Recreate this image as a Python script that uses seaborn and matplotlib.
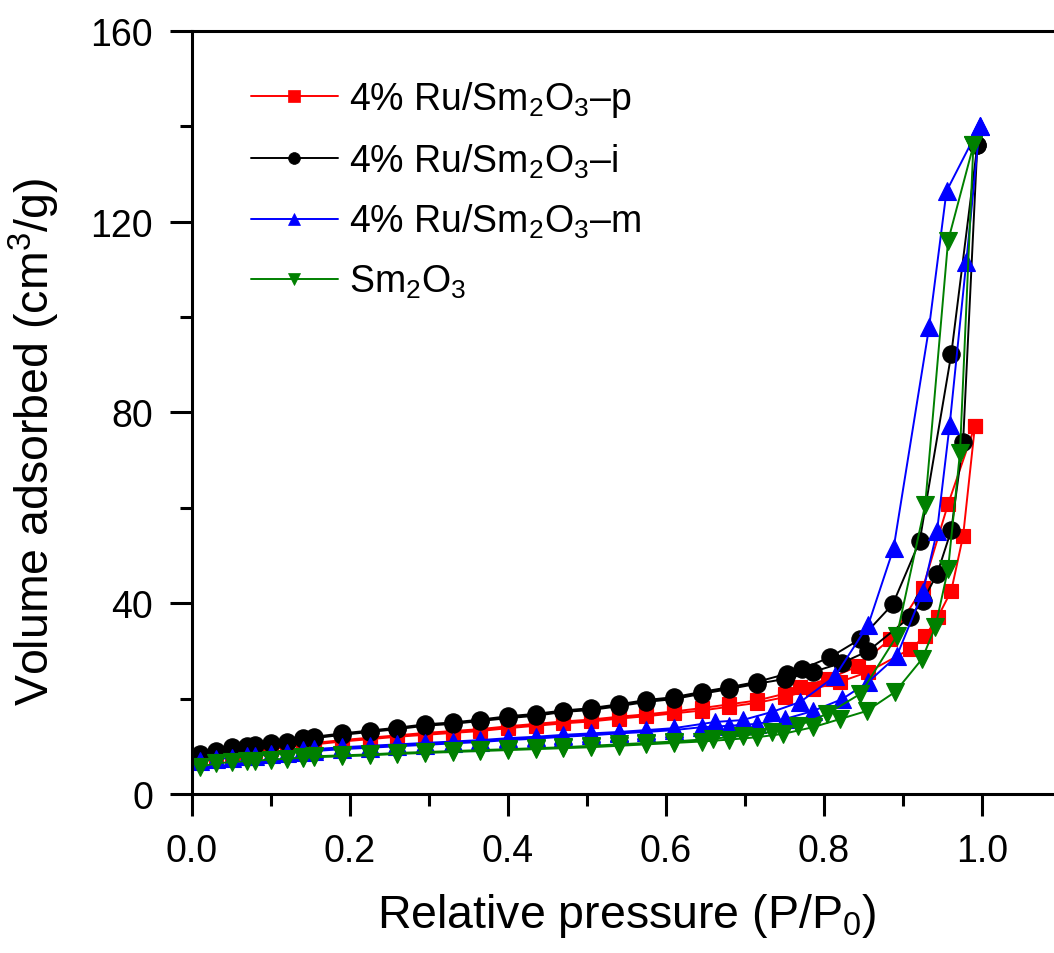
import matplotlib
matplotlib.use("Agg")
import matplotlib.pyplot as plt
from matplotlib.lines import Line2D
from matplotlib.ticker import MultipleLocator
import seaborn as sns

# 4% Ru/Sm2O3-p  (red squares)
p_ads_x = [0.01, 0.03, 0.05, 0.07, 0.08, 0.10, 0.12, 0.14, 0.155, 0.19, 0.225, 0.26, 0.295, 0.33, 0.365,
           0.40, 0.435, 0.47, 0.505, 0.54, 0.575, 0.61, 0.645, 0.68, 0.715, 0.75, 0.786, 0.82, 0.856,
           0.909, 0.928, 0.944, 0.961, 0.976, 0.991]
p_ads_y = [7.3, 7.9, 8.4, 8.8, 9.0, 9.4, 9.8, 10.2, 10.4, 11.0, 11.5, 12.0, 12.4, 12.8, 13.2,
           13.8, 14.3, 14.8, 15.2, 15.8, 16.3, 16.9, 17.5, 18.3, 19.1, 20.3, 22.0, 23.5, 25.6,
           30.4, 33.1, 37.1, 42.6, 54.1, 77.2]
p_des_x = [0.991, 0.957, 0.925, 0.884, 0.843, 0.805, 0.77, 0.75, 0.715, 0.68, 0.645, 0.61, 0.575, 0.54,
           0.505, 0.47, 0.435, 0.40, 0.365, 0.33, 0.295, 0.26, 0.225, 0.19, 0.155, 0.14]
p_des_y = [77.2, 60.8, 43.2, 32.5, 26.8, 24.1, 22.4, 21.0, 19.6, 18.8, 18.0, 17.3, 16.7, 16.2,
           15.6, 15.2, 14.7, 14.2, 13.6, 13.2, 12.8, 12.3, 11.8, 11.3, 10.7, 10.5]

# 4% Ru/Sm2O3-i  (black circles)
i_ads_x = [0.01, 0.03, 0.05, 0.07, 0.08, 0.10, 0.12, 0.14, 0.155, 0.19, 0.225, 0.26, 0.295, 0.33, 0.365,
           0.40, 0.435, 0.47, 0.505, 0.54, 0.575, 0.61, 0.645, 0.68, 0.715, 0.75, 0.786, 0.823, 0.856,
           0.909, 0.925, 0.943, 0.961, 0.976, 0.994]
i_ads_y = [8.4, 9.0, 9.8, 10.1, 10.3, 10.7, 11.0, 11.5, 11.7, 12.4, 13.0, 13.6, 14.3, 14.7, 15.3,
           15.9, 16.4, 17.2, 17.6, 18.4, 19.3, 19.9, 21.0, 22.0, 23.1, 24.1, 25.6, 27.5, 30.0,
           37.1, 40.5, 46.1, 55.3, 73.8, 136.0]
i_des_x = [0.994, 0.961, 0.921, 0.887, 0.846, 0.808, 0.772, 0.753, 0.715, 0.68, 0.645, 0.61, 0.575, 0.54,
           0.505, 0.47, 0.435, 0.40, 0.365, 0.33, 0.295, 0.26, 0.225, 0.19, 0.155, 0.14]
i_des_y = [136.0, 92.2, 53.0, 39.8, 32.5, 28.7, 26.2, 25.2, 23.5, 22.4, 21.4, 20.3, 19.7, 18.8,
           18.0, 17.5, 16.8, 16.3, 15.6, 15.0, 14.6, 13.9, 13.3, 12.7, 12.0, 11.8]

# 4% Ru/Sm2O3-m  (blue up triangles)
m_ads_x = [0.01, 0.03, 0.05, 0.07, 0.08, 0.10, 0.12, 0.14, 0.155, 0.19, 0.225, 0.26, 0.295, 0.33, 0.365,
           0.40, 0.435, 0.47, 0.505, 0.54, 0.575, 0.61, 0.645, 0.68, 0.715, 0.75, 0.786, 0.823, 0.856,
           0.892, 0.925, 0.943, 0.959, 0.98, 0.997]
m_ads_y = [7.0, 7.3, 7.6, 7.9, 8.0, 8.3, 8.6, 8.9, 9.0, 9.4, 9.7, 10.0, 10.3, 10.6, 10.9,
           11.3, 11.6, 12.0, 12.3, 12.7, 13.0, 13.4, 14.0, 14.3, 14.7, 15.7, 17.4, 19.9, 23.5,
           28.9, 42.3, 55.1, 77.4, 111.5, 140.0]
m_des_x = [0.997, 0.955, 0.933, 0.888, 0.856, 0.814, 0.77, 0.734, 0.697, 0.662, 0.61, 0.575, 0.54,
           0.505, 0.47, 0.435, 0.40, 0.365, 0.33, 0.295, 0.26, 0.225, 0.19, 0.155, 0.14]
m_des_y = [140.0, 126.4, 97.9, 51.5, 35.5, 24.7, 19.3, 17.2, 15.5, 15.1, 13.8, 13.4, 13.0,
           12.7, 12.4, 12.0, 11.7, 11.3, 11.0, 10.7, 10.4, 10.1, 9.8, 9.4, 9.2]

# Sm2O3  (green down triangles)
s_ads_x = [0.01, 0.03, 0.05, 0.07, 0.08, 0.10, 0.12, 0.14, 0.155, 0.19, 0.225, 0.26, 0.295, 0.33, 0.365,
           0.40, 0.435, 0.47, 0.505, 0.54, 0.575, 0.61, 0.645, 0.68, 0.715, 0.748, 0.786, 0.82, 0.854,
           0.89, 0.924, 0.941, 0.957, 0.972, 0.989]
s_ads_y = [5.7, 6.4, 6.7, 6.9, 7.0, 7.2, 7.4, 7.6, 7.7, 7.9, 8.1, 8.4, 8.6, 8.8, 9.0,
           9.2, 9.4, 9.6, 9.8, 10.1, 10.4, 10.7, 11.0, 11.4, 11.9, 12.6, 14.0, 15.7, 17.4,
           21.4, 28.3, 35.1, 47.2, 71.5, 136.0]
s_des_x = [0.989, 0.957, 0.928, 0.892, 0.846, 0.804, 0.767, 0.734, 0.697, 0.66, 0.61, 0.575, 0.54,
           0.505, 0.47, 0.435, 0.40, 0.365, 0.33, 0.295, 0.26, 0.225, 0.19, 0.155, 0.14]
s_des_y = [136.0, 116.0, 60.6, 33.1, 21.0, 16.8, 14.3, 13.0, 12.2, 11.6, 11.0, 10.7, 10.4,
           10.1, 9.8, 9.6, 9.4, 9.2, 9.0, 8.8, 8.6, 8.3, 8.1, 7.9, 7.8]

labels = ["4% Ru/Sm$_2$O$_3$\u2013p", "4% Ru/Sm$_2$O$_3$\u2013i",
          "4% Ru/Sm$_2$O$_3$\u2013m", "Sm$_2$O$_3$"]
colors = ["#ff0000", "#000000", "#0000ff", "#008000"]
markers = ["s", "o", "^", "v"]
msizes = [10.5, 12.5, 13.5, 13.5]

sns.set_style("ticks")
plt.rcParams["font.family"] = ["Liberation Sans", "DejaVu Sans"]
plt.rcParams["mathtext.fontset"] = "custom"
plt.rcParams["mathtext.rm"] = "Liberation Sans"
plt.rcParams["mathtext.it"] = "Liberation Sans:italic"
plt.rcParams["mathtext.bf"] = "Liberation Sans:bold"
plt.rcParams["text.color"] = "black"
plt.rcParams["axes.labelcolor"] = "black"
plt.rcParams["xtick.color"] = "black"
plt.rcParams["ytick.color"] = "black"
plt.rcParams["axes.edgecolor"] = "black"

fig = plt.figure(figsize=(10.54, 9.54), dpi=100)
ax = fig.add_axes([0.1822, 0.1667, 0.8245, 0.7998])

series = [
    (p_ads_x + p_des_x, p_ads_y + p_des_y),
    (i_ads_x + i_des_x, i_ads_y + i_des_y),
    (m_ads_x + m_des_x, m_ads_y + m_des_y),
    (s_ads_x + s_des_x, s_ads_y + s_des_y),
]

for (xs, ys), c, m, ms in zip(series, colors, markers, msizes):
    sns.lineplot(x=xs, y=ys, sort=False, estimator=None, ax=ax, color=c,
                 marker=m, markersize=ms, markeredgewidth=0.8, markeredgecolor=c,
                 linewidth=1.4)

ax.set_xlim(0, 1.1)
ax.set_ylim(0, 160)
ax.set_xticks([0.0, 0.2, 0.4, 0.6, 0.8, 1.0])
ax.set_xticklabels(["0.0", "0.2", "0.4", "0.6", "0.8", "1.0"])
ax.xaxis.set_minor_locator(MultipleLocator(0.1))
ax.set_yticks([0, 40, 80, 120, 160])
ax.yaxis.set_minor_locator(MultipleLocator(20))

for s in ax.spines.values():
    s.set_linewidth(2.2)
ax.tick_params(which="major", length=16, width=2.2, labelsize=27, pad=12, direction="out")
ax.tick_params(which="minor", length=8.5, width=2.2, direction="out")

ax.set_xlabel("Relative pressure (P/P$_0$)", fontsize=33.5, labelpad=16)
ax.set_ylabel("Volume adsorbed (cm$^3$/g)", fontsize=33.5)
# label sits a little below the axis centre in the original
ax.yaxis.set_label_coords(-0.15, 0.462)

handles = [Line2D([], [], color=c, marker=m, markersize=8.5, markeredgewidth=0.5,
                  markeredgecolor=c, linewidth=1.4)
           for c, m in zip(colors, markers)]
ax.legend(handles, labels, loc="upper left", bbox_to_anchor=(0.051, 0.957), frameon=False,
          fontsize=27, handlelength=2.3, handletextpad=0.3, labelspacing=0.6,
          borderaxespad=0)

fig.savefig("out.png", dpi=100)
